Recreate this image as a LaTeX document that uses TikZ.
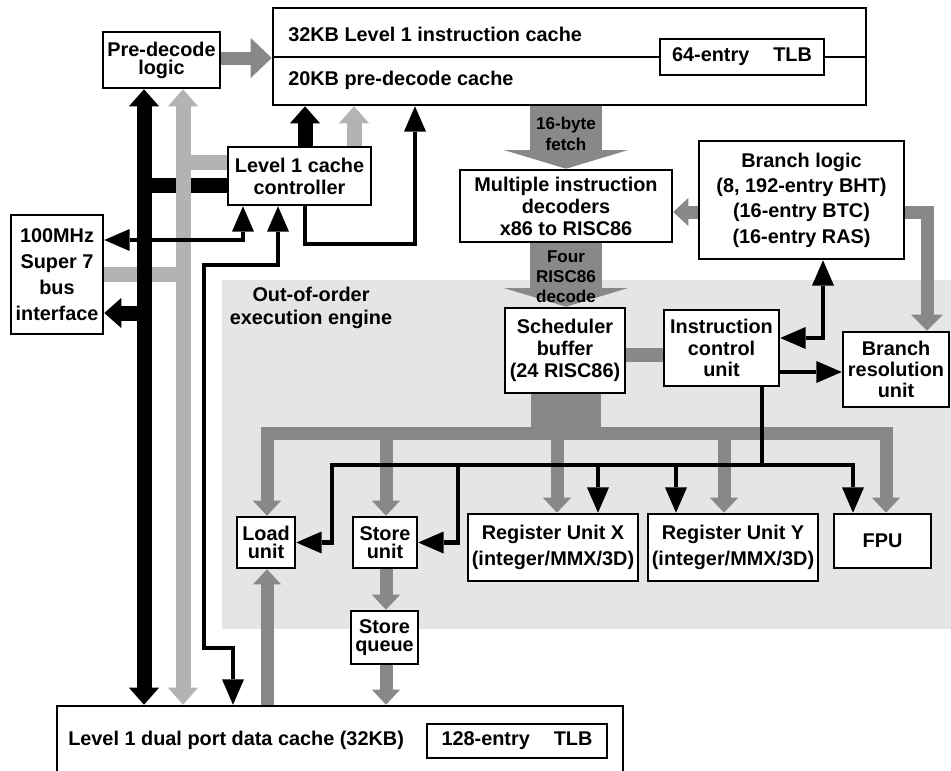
\documentclass[tikz,border=0pt]{standalone}
\usepackage{fontspec}
\setmainfont{Liberation Sans}
\usetikzlibrary{arrows.meta,fit}
\pgfdeclarelayer{back}
\pgfdeclarelayer{conn}
\pgfsetlayers{back,conn,main}
\definecolor{gMid}{HTML}{888888}
\definecolor{gLight}{HTML}{B3B3B3}
\definecolor{gBack}{HTML}{E5E5E5}
\tikzset{
  box/.style={draw, line width=1.9pt, fill=white, inner sep=0pt, rectangle},
  lbl/.style={align=center, inner sep=0pt, font=\bfseries\fontsize{14.9pt}{#1}\selectfont},
  lbl/.default=16.5pt,
  blk/.style={line width=11.25pt, draw=black},
  lgr/.style={line width=11.25pt, draw=gLight},
  mgr/.style={line width=9.75pt, draw=gMid},
  thn/.style={line width=3.5pt, draw=black},
  bigarr/.style={line width=54pt, draw=gMid},
  stem/.style={line width=52.5pt, draw=gMid},
  tipBlk/.tip={Triangle[width=22.5pt,length=12.75pt,line width=0pt]},
  tipThn/.tip={Triangle[width=16.5pt,length=19pt,line width=0pt]},
  tipBus/.tip={Triangle[width=21pt,length=11.25pt,line width=0pt]},
  tipPre/.tip={Triangle[width=30pt,length=15.75pt,line width=0pt]},
  tipBrl/.tip={Triangle[width=21pt,length=11.25pt,line width=0pt]},
  tipBrr/.tip={Triangle[width=24pt,length=12pt,line width=0pt]},
  tipBig/.tip={Triangle[width=93pt,length=14pt,line width=0pt]},
}
\begin{document}
\begin{tikzpicture}[x=0.75pt,y=-0.75pt]
\useasboundingbox (0,0) rectangle (951,771);
% columns and rows
\coordinate (xA) at (144,0);
\coordinate (xB) at (183,0);
\coordinate (xC) at (305,0);
\coordinate (xD) at (354,0);
\coordinate (xE) at (415,0);
\coordinate (xF) at (243,0);
\coordinate (xG) at (278,0);
\coordinate (xH) at (204,0);
\coordinate (xI) at (233,0);
\coordinate (xJ) at (566,0);
\coordinate (xK) at (267,0);
\coordinate (xL) at (386,0);
\coordinate (xM) at (557,0);
\coordinate (xN) at (724,0);
\coordinate (xO) at (886,0);
\coordinate (xP) at (332,0);
\coordinate (xQ) at (458,0);
\coordinate (xR) at (598,0);
\coordinate (xS) at (676,0);
\coordinate (xT) at (853,0);
\coordinate (xU) at (762,0);
\coordinate (xV) at (823,0);
\coordinate (xW) at (927,0);
\coordinate (yA) at (0,185);
\coordinate (yB) at (0,162);
\coordinate (yC) at (0,274);
\coordinate (yD) at (0,313);
\coordinate (yE) at (0,240);
\coordinate (yF) at (0,244);
\coordinate (yG) at (0,265);
\coordinate (yH) at (0,648);
\coordinate (yI) at (0,433);
\coordinate (yJ) at (0,465);
\coordinate (yL) at (0,212);
\coordinate (yM) at (0,338);
\coordinate (yN) at (0,372);
\coordinate (yO) at (0,355);
\coordinate (yP) at (0,58);
\coordinate (yQ) at (0,57);

% region
\begin{pgfonlayer}{back}
\fill[gBack] (222,280) rectangle (951,629);
\end{pgfonlayer}
\node[lbl=17.25pt] (ooo) at (311,308) {Out-of-order\\execution engine};

% boxes
\node[box, fit={(273,8) (866,105)}] (ic) {};
\draw[line width=1.1pt] (ic.west |- yQ) -- (ic.east |- yQ);
\node[box, fit={(660,39) (824,75)}] (itlb) {};
\node[lbl] (itlb-t) at (itlb) {64-entry\hspace{18pt}TLB};
\node[lbl, anchor=west] (ic1) at (288,34) {32KB Level 1 instruction cache};
\node[lbl, anchor=west] (ic2) at (288,80) {20KB pre-decode cache};

\node[box, fit={(103,32) (220,88)}] (pre) {};
\node[lbl=13.5pt] (pre-t) at (pre) {Pre-decode\\logic};

\node[box, fit={(228,147) (371,205)}] (l1cc) {};
\node[lbl] (l1cc-t) at (l1cc) {Level 1 cache\\controller};

\node[box, fit={(11,215) (103,334)}] (sbus) {};
\node[lbl=19.5pt] (sbus-t) at (sbus) {100MHz\\Super 7\\bus\\interface};

\node[box, fit={(460,170) (672,242)}] (dec) {};
\node[lbl] (dec-t) at (dec) {Multiple instruction\\decoders\\x86 to RISC86};

\node[box, fit={(699,141) (904,259)}] (brl) {};
\node[lbl=19pt] (brl-t) at (brl) {Branch logic\\(8, 192-entry BHT)\\(16-entry BTC)\\(16-entry RAS)};

\node[box, fit={(505,308) (625,393)}] (sch) {};
\node[lbl] (sch-t) at (sch) {Scheduler\\buffer\\(24 RISC86)};

\node[box, fit={(664,310) (779,386)}] (icu) {};
\node[lbl=16pt] (icu-t) at (icu) {Instruction\\control\\unit};

\node[box, fit={(843,332) (949,407)}] (bres) {};
\node[lbl=16pt] (bres-t) at (bres) {Branch\\resolution\\unit};

\node[box, fit={(237,517) (295,568)}] (load) {};
\node[lbl=14pt] (load-t) at (load) {Load\\unit};

\node[box, fit={(353,517) (417,568)}] (stu) {};
\node[lbl=14pt] (stu-t) at (stu) {Store\\unit};

\node[box, fit={(351,611) (418,664)}] (stq) {};
\node[lbl=13.5pt] (stq-t) at (stq) {Store\\queue};

\node[box, fit={(468,514) (638,581)}] (rx) {};
\node[lbl=19.5pt] (rx-t) at (rx) {Register Unit X\\(integer/MMX/3D)};

\node[box, fit={(648,514) (818,581)}] (ry) {};
\node[lbl=19.5pt] (ry-t) at (ry) {Register Unit Y\\(integer/MMX/3D)};

\node[box, fit={(834,514) (931,568)}] (fpu) {};
\node[lbl] (fpu-t) at (fpu) {FPU};

\node[box, fit={(57,706) (623,790)}] (dc) {};
\node[box, fit={(427,724) (607,758)}] (dtlb) {};
\node[lbl] (dtlb-t) at (dtlb) {128-entry\hspace{18pt}TLB};
\node[lbl, anchor=west] (dc-t) at (68,740) {Level 1 dual port data cache (32KB)};

% big arrow labels
\node[lbl=16pt, font=\bfseries\fontsize{12.8pt}{16pt}\selectfont] (fetch-t) at (566,134) {16-byte\\fetch};
\node[lbl=15pt, font=\bfseries\fontsize{12.8pt}{15pt}\selectfont] (four-t) at (566,277) {Four\\RISC86\\decode};

\begin{pgfonlayer}{conn}
% left bus structure
\draw[lgr] (sbus.east |- yC) -- (xB |- yC);
\draw[blk, tipBlk-tipBlk] (pre.south -| xA) -- (dc.north -| xA);
\draw[blk, -tipBlk] (xA |- yD) -- (sbus.east |- yD);
\draw[blk] (xA |- yA) -- (l1cc.west |- yA);
\draw[lgr, tipBlk-tipBlk] (pre.south -| xB) -- (dc.north -| xB);
\draw[lgr] (xB |- yB) -- (l1cc.west |- yB);
\draw[blk, -tipBlk] (l1cc.north -| xC) -- (ic.south -| xC);
\draw[lgr, -tipBlk] (l1cc.north -| xD) -- (ic.south -| xD);
\draw[thn, -tipThn] (l1cc.south -| xC) -- (xC |- yF) -- (xE |- yF) -- (ic.south -| xE);
\draw[thn, tipThn-tipThn] (sbus.east |- yE) -- (xF |- yE) -- (l1cc.south -| xF);
\draw[thn, tipThn-tipThn] (l1cc.south -| xG) -- (xG |- yG) -- (xH |- yG) -- (xH |- yH) -- (xI |- yH) -- (dc.north -| xI);
\draw[mgr, -tipPre] (pre.east |- yP) -- (ic.west |- yP);
% decode path
\draw[bigarr, -tipBig] (ic.south -| xJ) -- (dec.north -| xJ);
\draw[bigarr, -tipBig] (dec.south -| xJ) -- (sch.north -| xJ);
\draw[mgr, -tipBrl] (brl.west |- yL) -- (dec.east |- yL);
\draw[mgr, -tipBrr] (brl.east |- yL) -- (xW |- yL) -- (bres.north -| xW);
\draw[mgr, line width=10.5pt] (sch.east |- yO) -- (icu.west |- yO);
\draw[thn, tipThn-tipThn] (icu.east |- yM) -- (xV |- yM) -- (brl.south -| xV);
\draw[thn, -tipThn] (icu.east |- yN) -- (bres.west |- yN);
% gray issue bus
\draw[stem] (sch.south -| xJ) -- (xJ |- yI);
\draw[mgr, tipBus-tipBus] (load.north -| xK) -- (xK |- yI) -- (xO |- yI) -- (fpu.north -| xO);
\draw[mgr, -tipBus] (xL |- yI) -- (stu.north -| xL);
\draw[mgr, -tipBus] (xM |- yI) -- (rx.north -| xM);
\draw[mgr, -tipBus] (xN |- yI) -- (ry.north -| xN);
\draw[mgr, -tipBus] (stu.south -| xL) -- (stq.north -| xL);
\draw[mgr, -tipBus] (stq.south -| xL) -- (dc.north -| xL);
\draw[mgr, -tipBus] (dc.north -| xK) -- (load.south -| xK);
% black control bus
\draw[thn] (icu.south -| xU) -- (xU |- yJ);
\draw[thn, tipThn-tipThn] (load.east) -- (load.east -| xP) -- (xP |- yJ) -- (xT |- yJ) -- (fpu.north -| xT);
\draw[thn, -tipThn] (xQ |- yJ) -- (stu.east -| xQ) -- (stu.east);
\draw[thn, -tipThn] (xR |- yJ) -- (rx.north -| xR);
\draw[thn, -tipThn] (xS |- yJ) -- (ry.north -| xS);
\end{pgfonlayer}
\end{tikzpicture}
\end{document}
